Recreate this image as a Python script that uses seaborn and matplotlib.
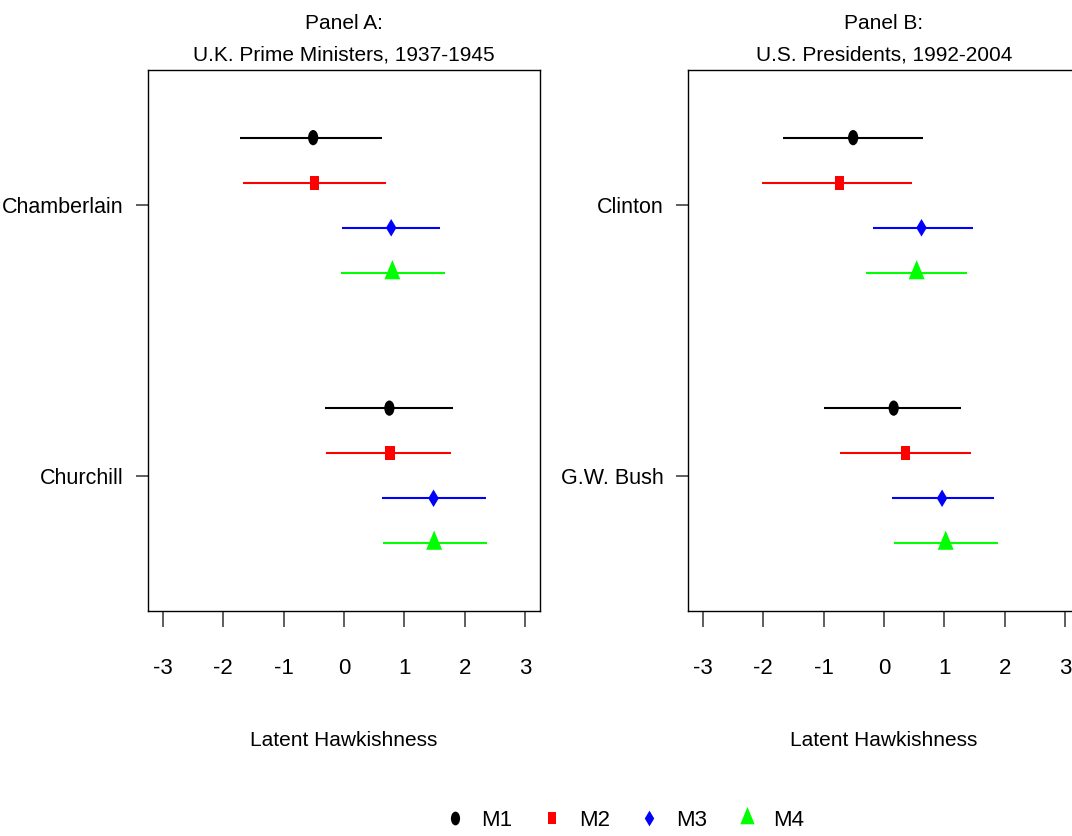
import numpy as np
import pandas as pd
import matplotlib
matplotlib.use("Agg")
import matplotlib.pyplot as plt
from matplotlib.path import Path
from matplotlib.lines import Line2D
import seaborn as sns

models = ["M1", "M2", "M3", "M4"]
model_colors = ["#000000", "#ff0000", "#0000ff", "#00ff00"]

uk_title = "Panel A:\nU.K. Prime Ministers, 1937-1945"
uk_leaders = ["Chamberlain", "Churchill"]
uk_est = [[-0.51, -0.48, 0.78, 0.80], [0.75, 0.76, 1.48, 1.49]]
uk_low = [[-1.72, -1.67, -0.03, -0.05], [-0.31, -0.30, 0.63, 0.65]]
uk_high = [[0.63, 0.70, 1.59, 1.67], [1.81, 1.77, 2.34, 2.37]]

us_title = "Panel B:\nU.S. Presidents, 1992-2004"
us_leaders = ["Clinton", "G.W. Bush"]
us_est = [[-0.51, -0.74, 0.62, 0.54], [0.16, 0.36, 0.96, 1.02]]
us_low = [[-1.67, -2.02, -0.19, -0.29], [-0.99, -0.72, 0.14, 0.17]]
us_high = [[0.64, 0.47, 1.47, 1.37], [1.27, 1.44, 1.82, 1.89]]

x_ticks = [-3, -2, -1, 0, 1, 2, 3]
x_label = "Latent Hawkishness"
FS = 15


def make_marker(verts):
    verts = list(verts) + [verts[0]]
    codes = [Path.MOVETO] + [Path.LINETO] * (len(verts) - 2) + [Path.CLOSEPOLY]
    return Path(verts, codes)


circ = Path.unit_circle()
ellipse = Path(circ.vertices * np.array([0.667, 1.0]), circ.codes)
marker_paths = {
    "M1": ellipse,
    "M2": make_marker([(-0.32, -0.5), (0.32, -0.5), (0.32, 0.5), (-0.32, 0.5)]),
    "M3": make_marker([(0, 0.5), (0.3, 0), (0, -0.5), (-0.3, 0)]),
    "M4": make_marker([(0, 0.5), (-0.31, -0.25), (0.31, -0.25)]),
}
marker_pt = {"M1": 11.0, "M2": 10.2, "M3": 12.6, "M4": 18.5}
palette = dict(zip(models, model_colors))

sns.set_theme(style="ticks")
plt.rcParams["font.family"] = ["Liberation Sans Narrow", "Liberation Sans", "DejaVu Sans"]
plt.rcParams["axes.edgecolor"] = "black"
plt.rcParams["axes.linewidth"] = 1.0
plt.rcParams["text.color"] = "black"
plt.rcParams["axes.labelcolor"] = "black"
plt.rcParams["xtick.labelcolor"] = "black"
plt.rcParams["ytick.labelcolor"] = "black"

fig = plt.figure(figsize=(10.72, 8.36), dpi=100)
W, H = 1072, 836
ax_a = fig.add_axes([148 / W, (H - 611) / H, 392 / W, 541 / H])
ax_b = fig.add_axes([688 / W, (H - 611) / H, 392 / W, 541 / H])


def build_frame(leaders, est, low, high):
    rows = []
    for i, leader in enumerate(leaders):
        center = len(leaders) - i
        for j, m in enumerate(models):
            rows.append({
                "leader": leader, "model": m,
                "y": center + (1.5 - j) / 6.0,
                "est": est[i][j], "low": low[i][j], "high": high[i][j],
            })
    return pd.DataFrame(rows)


def draw_panel(ax, title, leaders, est, low, high):
    df = build_frame(leaders, est, low, high)
    for _, r in df.iterrows():
        ax.hlines(r["y"], r["low"], r["high"], color=palette[r["model"]], lw=1.5, zorder=2)
    sns.scatterplot(
        data=df, x="est", y="y", hue="model", style="model", size="model",
        palette=palette, markers=marker_paths,
        sizes={m: s ** 2 for m, s in marker_pt.items()},
        linewidth=0, legend=False, ax=ax, zorder=3,
    )
    ax.set_xlim(-3.24, 3.24)
    ax.set_ylim(0.5, 2.5)
    ax.set_xticks(x_ticks)
    ax.set_xticklabels([str(t) for t in x_ticks])
    ax.set_yticks([len(leaders) - i for i in range(len(leaders))])
    ax.set_yticklabels(leaders)
    ax.tick_params(axis="x", length=11.5, width=1.1, color="#333333", pad=22, labelsize=FS + 1)
    ax.tick_params(axis="y", length=8.6, width=1.1, color="#333333", pad=9, labelsize=FS + 0.5)
    ax.set_xlabel(x_label, fontsize=FS, labelpad=38)
    ax.set_ylabel("")
    ax.set_title(title, fontsize=FS, linespacing=1.85, pad=7)
    for s in ax.spines.values():
        s.set_visible(True)
        s.set_color("black")


draw_panel(ax_a, uk_title, uk_leaders, uk_est, uk_low, uk_high)
draw_panel(ax_b, us_title, us_leaders, us_est, us_low, us_high)

handles = [
    Line2D([], [], linestyle="none", marker=marker_paths[m], color=palette[m],
           markersize=marker_pt[m] * 0.9, markeredgewidth=0)
    for m in models
]
fig.legend(handles, models, loc="center", bbox_to_anchor=(624 / W, 16 / H),
           ncol=4, frameon=False, fontsize=FS + 1, handlelength=1.0,
           handletextpad=0.7, columnspacing=1.28)

fig.savefig("out.png", dpi=100)
